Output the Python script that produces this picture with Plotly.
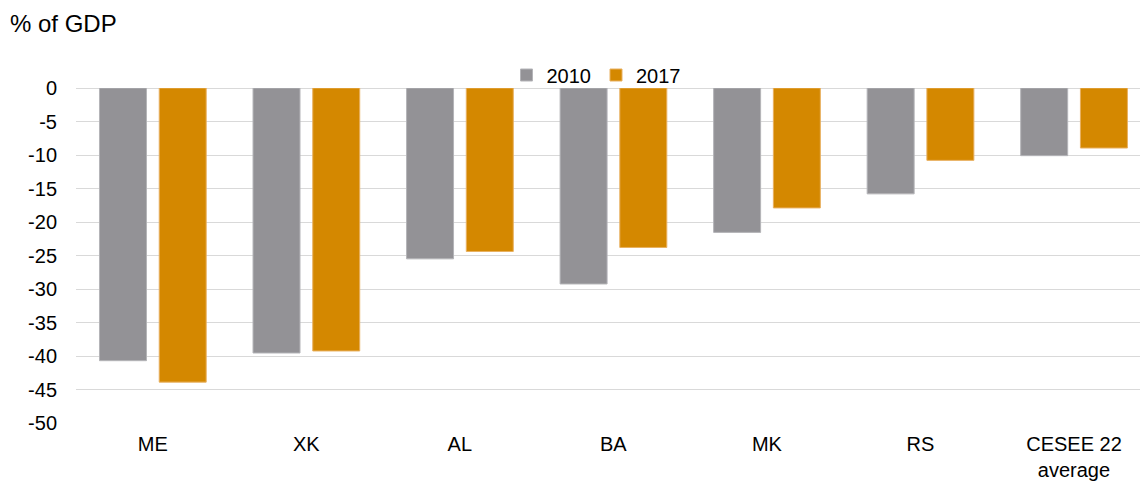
import plotly.graph_objects as go

categories = ["ME", "XK", "AL", "BA", "MK", "RS", "CESEE 22<br>average"]
values_2010 = [-40.7, -39.55, -25.5, -29.25, -21.55, -15.8, -10.1]
values_2017 = [-43.9, -39.25, -24.4, -23.8, -17.9, -10.8, -8.96]
y_ticks = [0, -5, -10, -15, -20, -25, -30, -35, -40, -45, -50]

FONT = "Liberation Sans, Arial, sans-serif"
GRAY = "#939296"
ORANGE = "#D48800"

fig = go.Figure()
fig.add_trace(go.Bar(
    x=list(range(len(categories))), y=values_2010, name="2010",
    marker=dict(color=GRAY, line=dict(color="#b4b4b8", width=1)),
    width=0.306, offset=-0.347,
))
fig.add_trace(go.Bar(
    x=list(range(len(categories))), y=values_2017, name="2017",
    marker=dict(color=ORANGE, line=dict(color="#e8b060", width=1)),
    width=0.306, offset=0.042,
))

fig.update_layout(
    width=1140, height=483,
    margin=dict(l=76, r=0, t=88, b=60, autoexpand=False),
    paper_bgcolor="white", plot_bgcolor="white",
    barmode="overlay",
    font=dict(family=FONT, size=20, color="#000000"),
    title=dict(text="% of GDP", xref="container", yref="container",
               x=10/1140, xanchor="left", y=1-24/483, yanchor="middle",
               pad=dict(t=0, b=0, l=0, r=0),
               font=dict(family=FONT, size=24, color="#000000")),
    legend=dict(orientation="h", x=(596-76)/1064, xanchor="center", xref="paper",
                y=1-75/483, yref="container", yanchor="middle",
                font=dict(family=FONT, size=20, color="#000000"),
                itemwidth=30, traceorder="normal", bgcolor="rgba(0,0,0,0)"),
    xaxis=dict(range=[-0.5, 6.43], tickmode="array",
               tickvals=list(range(len(categories))), ticktext=categories,
               showgrid=False, zeroline=False, showline=False, ticks="",
               ticklabelstandoff=7, tickfont=dict(size=20)),
    yaxis=dict(range=[-50, 0], tickmode="array", tickvals=y_ticks,
               ticktext=[str(v) for v in y_ticks],
               showgrid=True, gridcolor="#d9d9d9", gridwidth=1.3,
               zeroline=True, zerolinecolor="#d9d9d9", zerolinewidth=1.3,
               showline=False, ticks="", ticklabelstandoff=18,
               tickfont=dict(size=20)),
)

fig.write_html("out.html", config={"displayModeBar": False},
               post_script="document.body.style.margin='0';document.body.style.overflow='hidden';")
